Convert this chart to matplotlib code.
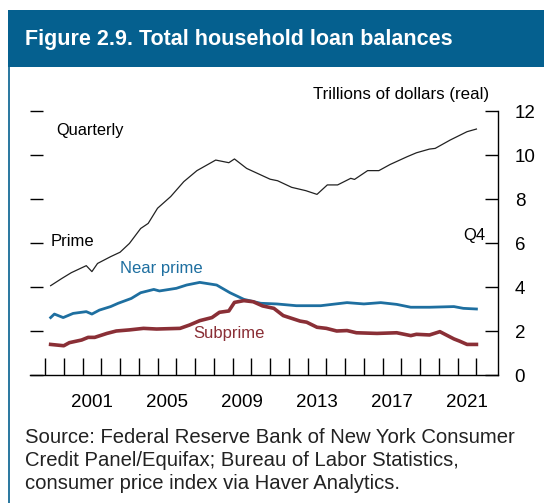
import numpy as np
import matplotlib.pyplot as plt
from matplotlib.patches import Rectangle
from matplotlib.lines import Line2D

plt.rcParams['font.family'] = ['Liberation Sans', 'DejaVu Sans']

# values (trillions of dollars, real)
prime_t = [1999.3, 1999.9, 2000.4, 2001.2, 2001.5, 2001.8, 2002.5, 2003.0, 2003.5,
           2004.1, 2004.5, 2005.0, 2005.7, 2006.4, 2007.1, 2008.1, 2008.8, 2009.1,
           2009.75, 2011.0, 2011.4, 2012.15, 2012.9, 2013.5, 2014.05, 2014.6, 2015.3,
           2015.5, 2016.2, 2016.8, 2017.4, 2018.3, 2018.8, 2019.5, 2019.8, 2020.6,
           2021.5, 2022.0]
prime_v = [4.06, 4.39, 4.65, 4.97, 4.70, 5.07, 5.38, 5.58, 5.98,
           6.66, 6.89, 7.58, 8.11, 8.79, 9.29, 9.77, 9.65, 9.82,
           9.39, 8.90, 8.83, 8.53, 8.38, 8.21, 8.64, 8.64, 8.94,
           8.89, 9.29, 9.29, 9.57, 9.92, 10.1, 10.27, 10.3, 10.68,
           11.06, 11.18]

near_t = [1999.3, 1999.5, 1999.97, 2000.5, 2001.2, 2001.5, 2001.9, 2002.5, 2002.9,
          2003.6, 2004.1, 2004.8, 2005.1, 2006.0, 2006.55, 2007.25, 2008.15, 2008.86,
          2009.6, 2010.5, 2011.35, 2012.4, 2013.7, 2015.1, 2016.0, 2016.9, 2017.75,
          2018.5, 2019.5, 2020.8, 2021.3, 2022.0]
near_v = [2.61, 2.77, 2.61, 2.80, 2.88, 2.77, 2.95, 3.11, 3.26,
          3.48, 3.74, 3.89, 3.82, 3.94, 4.09, 4.21, 4.09, 3.74,
          3.44, 3.26, 3.23, 3.15, 3.15, 3.29, 3.23, 3.29, 3.21,
          3.08, 3.08, 3.11, 3.03, 3.00]

sub_t = [1999.3, 2000.0, 2000.3, 2000.95, 2001.3, 2001.65, 2002.3, 2002.8, 2003.5,
         2004.25, 2004.95, 2006.2, 2006.7, 2007.25, 2007.9, 2008.3, 2008.8, 2009.1,
         2009.6, 2010.1, 2010.6, 2011.2, 2011.7, 2012.6, 2012.95, 2013.5, 2014.0,
         2014.55, 2015.1, 2015.6, 2016.7, 2017.75, 2018.5, 2018.8, 2019.5, 2020.05,
         2020.3, 2020.8, 2021.1, 2021.5, 2022.0]
sub_v = [1.39, 1.33, 1.47, 1.59, 1.71, 1.71, 1.89, 2.00, 2.05,
         2.12, 2.09, 2.12, 2.27, 2.47, 2.61, 2.85, 2.91, 3.30,
         3.38, 3.33, 3.14, 3.03, 2.70, 2.45, 2.40, 2.17, 2.12,
         2.00, 2.02, 1.92, 1.89, 1.92, 1.79, 1.85, 1.82, 1.97,
         1.86, 1.64, 1.54, 1.39, 1.39]

year_ticks = list(range(1999, 2023))
label_years = [2001, 2005, 2009, 2013, 2017, 2021]
y_ticks = [0, 2, 4, 6, 8, 10, 12]

header_blue = '#05608F'
blue = '#1E6FA0'
red = '#8A2F36'

fig = plt.figure(figsize=(5.44, 5.03), dpi=100)

# header banner and left frame line
fig.patches.append(Rectangle((8/544, 1-67/503), 1, 57/503, transform=fig.transFigure,
                             facecolor=header_blue, edgecolor='none'))
fig.lines.append(Line2D([8.5/544, 8.5/544], [0, 1-67/503], transform=fig.transFigure,
                        color=header_blue, lw=1.2))
fig.text(25/544, 1-39/503, 'Figure 2.9. Total household loan balances', color='white',
         fontsize=15.5, fontweight='bold', va='center', ha='left')

ax = fig.add_axes([30/544, 1-375/503, 468/544, 264/503])
ax.plot(prime_t, prime_v, color='#222222', lw=0.9)
ax.plot(near_t, near_v, color=blue, lw=2.0)
ax.plot(sub_t, sub_v, color=red, lw=2.6)

ax.set_xlim(1998.2, 2023.15)
ax.set_ylim(0, 12)
for s in ['left', 'top']:
    ax.spines[s].set_visible(False)
ax.spines['right'].set_linewidth(1.0)
ax.spines['bottom'].set_linewidth(1.0)

ax.set_xticks(year_ticks)
ax.set_xticklabels([])
ax.tick_params(axis='x', which='major', direction='in', length=12, width=1.0)
ax.set_xticks([y + 0.5 for y in label_years], minor=True)
ax.set_xticklabels([str(y) for y in label_years], minor=True)
ax.tick_params(axis='x', which='minor', length=0, pad=14, labelsize=13.5)

ax.set_yticks(y_ticks)
ax.yaxis.set_ticks_position('both')
ax.yaxis.set_label_position('right')
ax.tick_params(axis='y', direction='in', length=9.5, width=1.0, labelleft=False,
               labelright=True, pad=12, labelsize=13.5)

ax.text(2022.7, 12.4, 'Trillions of dollars (real)', ha='right', va='bottom', fontsize=12.2)
ax.text(1999.6, 11.1, 'Quarterly', ha='left', va='center', fontsize=11.8)
ax.text(1999.3, 6.05, 'Prime', ha='left', va='center', fontsize=12)
ax.text(2003.0, 4.85, 'Near prime', ha='left', va='center', fontsize=12, color=blue)
ax.text(2006.9, 1.9, 'Subprime', ha='left', va='center', fontsize=12, color=red)
ax.text(2022.5, 6.35, 'Q4', ha='right', va='center', fontsize=12)

fig.text(25/544, 1-428/503,
         'Source: Federal Reserve Bank of New York Consumer\n'
         'Credit Panel/Equifax; Bureau of Labor Statistics,\n'
         'consumer price index via Haver Analytics.',
         ha='left', va='top', fontsize=14.6, linespacing=1.28,
         color='#222222')

fig.savefig('out.png', dpi=100)
